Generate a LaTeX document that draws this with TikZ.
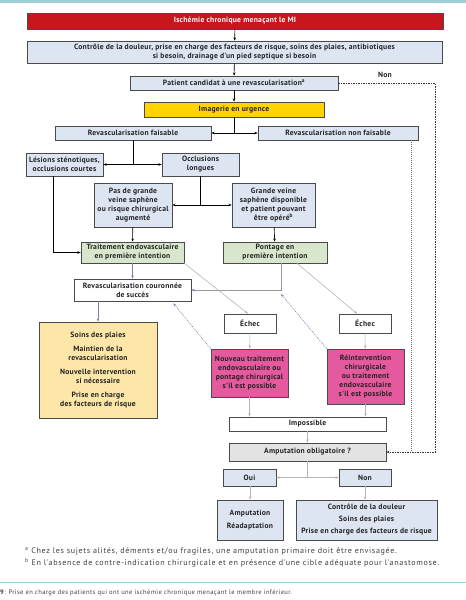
\documentclass[tikz,border=0pt]{standalone}
\usepackage{fontspec}
\setmainfont{PT Sans}
\newfontfamily\boxfont[LetterSpace=3.5]{PT Sans}
\newfontfamily\fnfont[LetterSpace=8]{PT Sans}
\newfontfamily\capfont[LetterSpace=6]{PT Sans}
\usetikzlibrary{arrows.meta}
\definecolor{redc}{HTML}{C8161D}
\definecolor{lb}{HTML}{DDE5F3}
\definecolor{yel}{HTML}{FFD400}
\definecolor{grn}{HTML}{D8E6CC}
\definecolor{soin}{HTML}{FDE7A8}
\definecolor{pnk}{HTML}{E55A9E}
\definecolor{gry}{HTML}{E3E3E3}
\definecolor{bordc}{HTML}{4A4A4A}
\definecolor{txt}{HTML}{222222}
\definecolor{tealc}{HTML}{9CCFD5}
\definecolor{slate}{HTML}{7F82AD}
\definecolor{lgray}{HTML}{B5B5B5}
\begin{document}
\begin{tikzpicture}[x=1pt,y=-1pt,
  box/.style={draw=bordc, line width=0.7pt, align=center, text=txt,
    font=\boxfont\bfseries\fontsize{7.6}{9}\selectfont, inner sep=0pt},
  arr/.style={-{Stealth[length=3.2pt,width=2.6pt]}, line width=0.6pt, draw=black},
  plain/.style={line width=0.6pt, draw=black},
  sarr/.style={-{Stealth[length=3.2pt,width=2.6pt]}, line width=0.7pt, draw=slate},
  sline/.style={line width=0.9pt, draw=gray!80},
  garr/.style={-{Stealth[length=3.2pt,width=2.6pt]}, line width=0.6pt, draw=lgray},
  gline/.style={line width=0.6pt, draw=lgray},
  dotarr/.style={-{Stealth[length=3.2pt,width=2.6pt]}, line width=0.6pt, draw=slate, dash pattern=on 1pt off 1pt},
  dasharr/.style={-{Stealth[length=3.2pt,width=2.6pt]}, line width=0.5pt, draw=black!80, dash pattern=on 1.5pt off 1pt},
  dotline/.style={line width=0.5pt, draw=black!60, dash pattern=on 0.8pt off 1.2pt},
  fn/.style={font=\fnfont\fontsize{8.1}{10}\selectfont, text=black!75, inner sep=0pt, anchor=west},
]
\useasboundingbox (0,0) rectangle (466,600);
\fill[tealc] (0,0) rectangle (466,3);
\draw[tealc, line width=1pt] (0,582) -- (466,582);

% nodes
\node[box, fill=redc, text=white, minimum width=416pt, minimum height=16pt] (red) at (235,21) {Ischémie chronique menaçant le MI};
\node[box, fill=lb, minimum width=415pt, minimum height=22pt] (ctrl) at (234.5,52) {Contrôle de la douleur, prise en charge des facteurs de risque, soins des plaies, antibiotiques\\si besoin, drainage d'un pied septique si besoin};
\node[box, fill=lb, minimum width=208pt, minimum height=14pt] (patient) at (234,83) {Patient candidat à une revascularisation\textsuperscript{a}};
\node[box, fill=yel, minimum width=180pt, minimum height=15pt] (imag) at (234,109.5) {Imagerie en urgence};
\node[box, fill=lb, minimum width=156pt, minimum height=14pt] (rf) at (133,133) {Revascularisation faisable};
\node[box, fill=lb, minimum width=160pt, minimum height=14pt] (rnf) at (338,133) {Revascularisation non faisable};
\node[box, fill=lb, minimum width=77pt, minimum height=23pt] (les) at (64.5,164.5) {Lésions sténotiques,\\occlusions courtes};
\node[box, fill=lb, minimum width=77pt, minimum height=23pt] (occl) at (200.5,164.5) {Occlusions\\longues};
\node[box, fill=lb, minimum width=78pt, minimum height=44pt] (pasgv) at (133,205) {Pas de grande\\veine saphène\\ou risque chirurgical\\augmenté};
\node[box, fill=lb, minimum width=83pt, minimum height=44pt] (gv) at (273.5,205) {Grande veine\\saphène disponible\\et patient pouvant\\être opéré\textsuperscript{b}};
\node[box, fill=grn, minimum width=103pt, minimum height=21pt] (endo) at (132.5,252.5) {Traitement endovasculaire\\en première intention};
\node[box, fill=grn, minimum width=104pt, minimum height=21pt] (pont) at (275,252.5) {Pontage en\\première intention};
\node[box, fill=white, minimum width=117pt, minimum height=22pt] (succ) at (132.5,290) {Revascularisation couronnée\\de succès};
\node[box, fill=soin, minimum width=118pt, minimum height=96pt] (soins) at (98,370) {Soins des plaies\\[5pt]Maintien de la\\revascularisation\\[5pt]Nouvelle intervention\\si nécessaire\\[5pt]Prise en charge\\des facteurs de risque};
\node[box, fill=white, minimum width=52pt, minimum height=19pt] (ech1) at (250,323.5) {Échec};
\node[box, fill=white, minimum width=52pt, minimum height=19pt] (ech2) at (365,323.5) {Échec};
\node[box, fill=pnk, minimum width=77pt, minimum height=48pt] (nouv) at (249.5,373) {Nouveau traitement\\endovasculaire ou\\pontage chirurgical\\s'il est possible};
\node[box, fill=pnk, minimum width=77pt, minimum height=55pt] (reint) at (365.5,376.5) {Réintervention\\chirurgicale\\ou traitement\\endovasculaire\\s'il est possible};
\node[box, fill=white, minimum width=157pt, minimum height=14pt] (imposs) at (307.5,424) {Impossible};
\node[box, fill=gry, minimum width=157pt, minimum height=18pt] (amp) at (307.5,452) {Amputation obligatoire ?};
\node[box, fill=lb, minimum width=53pt, minimum height=17pt] (oui) at (249.5,477.5) {Oui};
\node[box, fill=lb, minimum width=52pt, minimum height=17pt] (non) at (365,477.5) {Non};
\node[box, fill=lb, minimum width=66pt, minimum height=40pt] (ampb) at (250,520) {Amputation\\[4pt]Réadaptation};
\node[box, fill=lb, minimum width=141pt, minimum height=40pt] (ctrl2) at (366.5,520) {Contrôle de la douleur\\[3pt]Soins des plaies\\[3pt]Prise en charge des facteurs de risque};
\node[box, draw=none, inner sep=0pt] (nonlbl) at (385,75) {Non};

% upper black connectors
\draw[arr] (red) -- (ctrl);
\draw[arr] (ctrl) -- (patient);
\draw[arr] (patient) -- (imag);
\coordinate (j1) at (imag.south |- rf.east);
\draw[plain] (imag.south) -- (j1);
\draw[arr] (j1) -- (rf.east);
\draw[arr] (j1) -- (rnf.west);
\coordinate (j2) at (rf.south |- les.east);
\draw[plain] (rf.south) -- (j2);
\draw[arr] (j2) -- (les.east);
\draw[arr] (j2) -- (occl.west);
\coordinate (j3) at (occl.south |- pasgv.east);
\draw[plain] (occl.south) -- (j3);
\draw[arr] (j3) -- (pasgv.east);
\draw[arr] (j3) -- (gv.west);
\draw[arr] (pasgv) -- (endo);
\draw[arr] (gv) -- (pont);
\draw[arr] ([xshift=-11.5pt]les.south) |- (endo.west);

% slate connectors
\draw[sarr] (endo) -- (succ);
\coordinate (pc) at ([xshift=6pt]pont.south |- succ.east);
\draw[sline] ([xshift=6pt]pont.south) -- (pc) -- ([xshift=5pt]succ.east);
\draw[sarr] ([xshift=5pt]succ.east) -- (succ.east);
\draw[sarr] (soins.north |- succ.south) -- (soins.north);

% gray connectors
\draw[garr] (endo.south east) -- ([xshift=-2pt]ech1.north);
\draw[garr] ([xshift=22pt]pont.south) -- ([xshift=-8pt]ech2.north);
\draw[garr] (ech1) -- (nouv);
\draw[garr] (ech2) -- (reint);
\draw[garr] (nouv.south) -- (nouv.south |- imposs.north);
\draw[garr] (reint.south) -- (reint.south |- imposs.north);
\draw[garr] (imposs) -- (amp);
\coordinate (j4) at (amp.south |- oui.east);
\draw[gline] (amp.south) -- (j4);
\draw[garr] (j4) -- (oui.east);
\draw[garr] (j4) -- (non.west);
\draw[garr] (oui.south -| ampb.north) -- (ampb.north);
\draw[garr] (non) -- (non.south |- ctrl2.north);

% dotted back arrows
\draw[dotarr] (nouv.north west) -- ([xshift=-18pt,yshift=-2pt]succ.south east);
\draw[dotarr] (reint.north west) -- ([yshift=-4pt]pc);

% dashed paths to amputation
\draw[dasharr] (patient.east) -| ([xshift=49pt]amp.east) -- (amp.east);
\draw[dotline] ([xshift=-7pt]rnf.south east) -- ([xshift=-7pt]rnf.south east |- amp.east);

% footnotes
\node[fn] (fa) at (25,551) {\textsuperscript{a} Chez les sujets alités, déments et/ou fragiles, une amputation primaire doit être envisagée.};
\node[fn] (fb) at (25,563) {\textsuperscript{b} En l'absence de contre-indication chirurgicale et en présence d'une cible adéquate pour l'anastomose.};
\node[fn, font=\capfont\fontsize{6.5}{7}\selectfont] (cap) at (0,593) {\textbf{9}: Prise en charge des patients qui ont une ischémie chronique menaçant le membre inférieur.};
\end{tikzpicture}
\end{document}
